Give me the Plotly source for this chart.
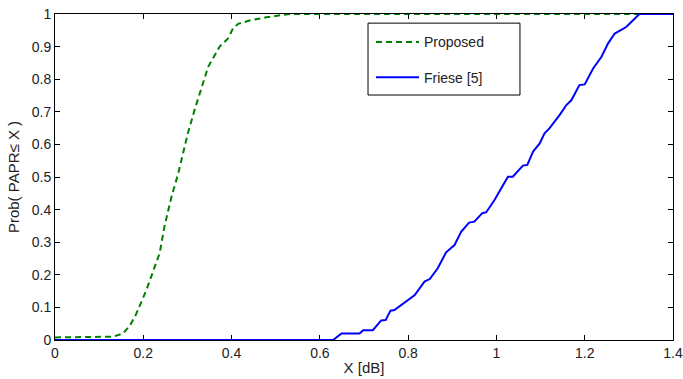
import plotly.graph_objects as go

# Proposed (green dashed)
prop_x = [0.0, 0.05, 0.10, 0.131, 0.154, 0.17, 0.184, 0.207, 0.226, 0.237, 0.248, 0.264, 0.279, 0.29,
          0.301, 0.316, 0.332, 0.347, 0.373, 0.392, 0.403, 0.415, 0.441, 0.479, 0.532, 0.6, 0.8, 1.0, 1.2, 1.4]
prop_y = [0.008, 0.009, 0.01, 0.01, 0.02, 0.045, 0.08, 0.153, 0.225, 0.266, 0.348, 0.44, 0.51, 0.573,
          0.634, 0.705, 0.777, 0.838, 0.9, 0.925, 0.955, 0.97, 0.98, 0.99, 1.0, 1.0, 1.0, 1.0, 1.0, 1.0]

# Friese [5] (blue solid)
fri_x = [0.0, 0.3, 0.63, 0.649, 0.69, 0.698, 0.72, 0.739, 0.749, 0.76, 0.769, 0.815, 0.837, 0.849,
         0.867, 0.886, 0.905, 0.92, 0.938, 0.95, 0.968, 0.977, 0.996, 1.026, 1.037, 1.06, 1.07, 1.083,
         1.098, 1.109, 1.12, 1.143, 1.158, 1.17, 1.188, 1.2, 1.219, 1.238, 1.253, 1.268, 1.294, 1.324, 1.4]
fri_y = [0.0, 0.0, 0.0, 0.02, 0.02, 0.03, 0.03, 0.06, 0.061, 0.09, 0.092, 0.138, 0.179, 0.187,
         0.22, 0.269, 0.291, 0.332, 0.36, 0.363, 0.389, 0.392, 0.43, 0.501, 0.501, 0.535, 0.537, 0.578,
         0.603, 0.634, 0.649, 0.69, 0.72, 0.736, 0.782, 0.784, 0.833, 0.869, 0.91, 0.94, 0.96, 1.0, 1.0]

x_ticks = [0, 0.2, 0.4, 0.6, 0.8, 1, 1.2, 1.4]
x_ticklabels = ["0", "0.2", "0.4", "0.6", "0.8", "1", "1.2", "1.4"]
y_ticks = [0, 0.1, 0.2, 0.3, 0.4, 0.5, 0.6, 0.7, 0.8, 0.9, 1]
y_ticklabels = ["0", "0.1", "0.2", "0.3", "0.4", "0.5", "0.6", "0.7", "0.8", "0.9", "1"]

fig = go.Figure()
fig.add_trace(go.Scatter(x=prop_x, y=prop_y, mode="lines", name="Proposed", legendgroup="a",
                         line=dict(color="#008000", width=2, dash="6px,4px")))
fig.add_trace(go.Scatter(x=fri_x, y=fri_y, mode="lines", name="Friese [5]", legendgroup="b",
                         line=dict(color="#0000FF", width=2)))

font = "Liberation Sans, Arial, sans-serif"
axis_common = dict(showline=True, linecolor="black", linewidth=1, mirror="ticks",
                   ticks="inside", ticklen=5, tickcolor="black", showgrid=False, zeroline=False,
                   automargin=False, layer="below traces",
                   tickfont=dict(family=font, size=14, color="#222"))
fig.update_xaxes(range=[0, 1.4], tickvals=x_ticks, ticktext=x_ticklabels,
                 title=dict(text="X [dB]", font=dict(family=font, size=15, color="#222"), standoff=2),
                 **axis_common)
fig.update_yaxes(range=[0, 1], tickvals=y_ticks, ticktext=y_ticklabels,
                 title=dict(text="Prob( PAPR≤ X )", font=dict(family=font, size=15, color="#222"), standoff=8),
                 **axis_common)

# legend frame
fig.add_shape(type="rect", xref="paper", yref="paper", x0=0.5065, x1=0.7524, y0=0.7515, y1=0.972,
              line=dict(color="black", width=1), fillcolor="white", layer="above")

fig.update_layout(
    width=683, height=379,
    margin=dict(l=55, r=10, t=14, b=39),
    plot_bgcolor="white", paper_bgcolor="white",
    legend=dict(x=(371 - 55) / 618, y=0.962, xanchor="left", yanchor="top",
                borderwidth=0, bgcolor="rgba(0,0,0,0)", itemwidth=43,
                font=dict(family=font, size=14, color="#222"),
                tracegroupgap=14),
)

fig.write_html("out.html")
